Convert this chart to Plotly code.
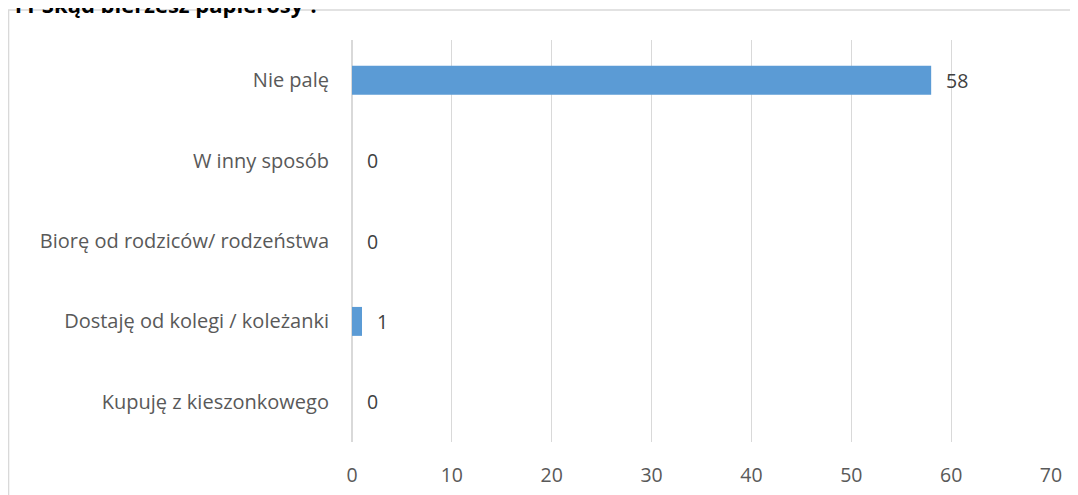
import plotly.graph_objects as go

categories = ["Nie palę", "W inny sposób", "Biorę od rodziców/ rodzeństwa",
              "Dostaję od kolegi / koleżanki", "Kupuję z kieszonkowego"]
values = [58, 0, 0, 1, 0]
x_ticks = [0, 10, 20, 30, 40, 50, 60, 70]
title_text = "11 Skąd bierzesz papierosy ?"

FONT = "Open Sans"
TXT = "#595959"
GRID = "#D9D9D9"
FS = 19.5

fig = go.Figure()
fig.add_trace(go.Bar(
    x=values, y=categories, orientation="h",
    marker=dict(color="#5B9BD5", line=dict(width=0)),
    width=0.36, hoverinfo="skip",
))

for c, v in zip(categories, values):
    fig.add_annotation(x=v, y=c, xref="x", yref="y", text=str(v),
                       showarrow=False, xanchor="left", yanchor="middle",
                       xshift=13, font=dict(family=FONT, size=FS, color="#404040"))

fig.add_annotation(x=-0.491, y=1.047, xref="paper", yref="paper", text=title_text,
                   showarrow=False, xanchor="left", yanchor="bottom",
                   font=dict(family=FONT, size=22, color="#000000", weight="bold"))

fig.add_shape(type="rect", xref="paper", yref="paper",
              x0=-0.4912, y0=-0.3, x1=1.2, y1=1.0746,
              line=dict(color=GRID, width=1.3), fillcolor="rgba(0,0,0,0)", layer="below")

fig.update_layout(
    width=1070, height=487,
    margin=dict(l=344, r=27, t=32, b=53, autoexpand=False),
    paper_bgcolor="white", plot_bgcolor="white",
    showlegend=False,
    font=dict(family=FONT, size=FS, color=TXT),
    xaxis=dict(range=[0, 70], tickvals=x_ticks, showgrid=True, gridcolor=GRID,
               gridwidth=1, zeroline=True, zerolinecolor=GRID, zerolinewidth=1.5,
               showline=False, ticks="", ticklabelstandoff=19, automargin=False,
               tickfont=dict(family=FONT, size=FS, color=TXT), fixedrange=True),
    yaxis=dict(autorange="reversed", showgrid=False, zeroline=False, showline=False,
               ticks="", ticklabelstandoff=22, automargin=False,
               tickfont=dict(family=FONT, size=20, color=TXT), fixedrange=True),
)

fig.write_html("out.html")
